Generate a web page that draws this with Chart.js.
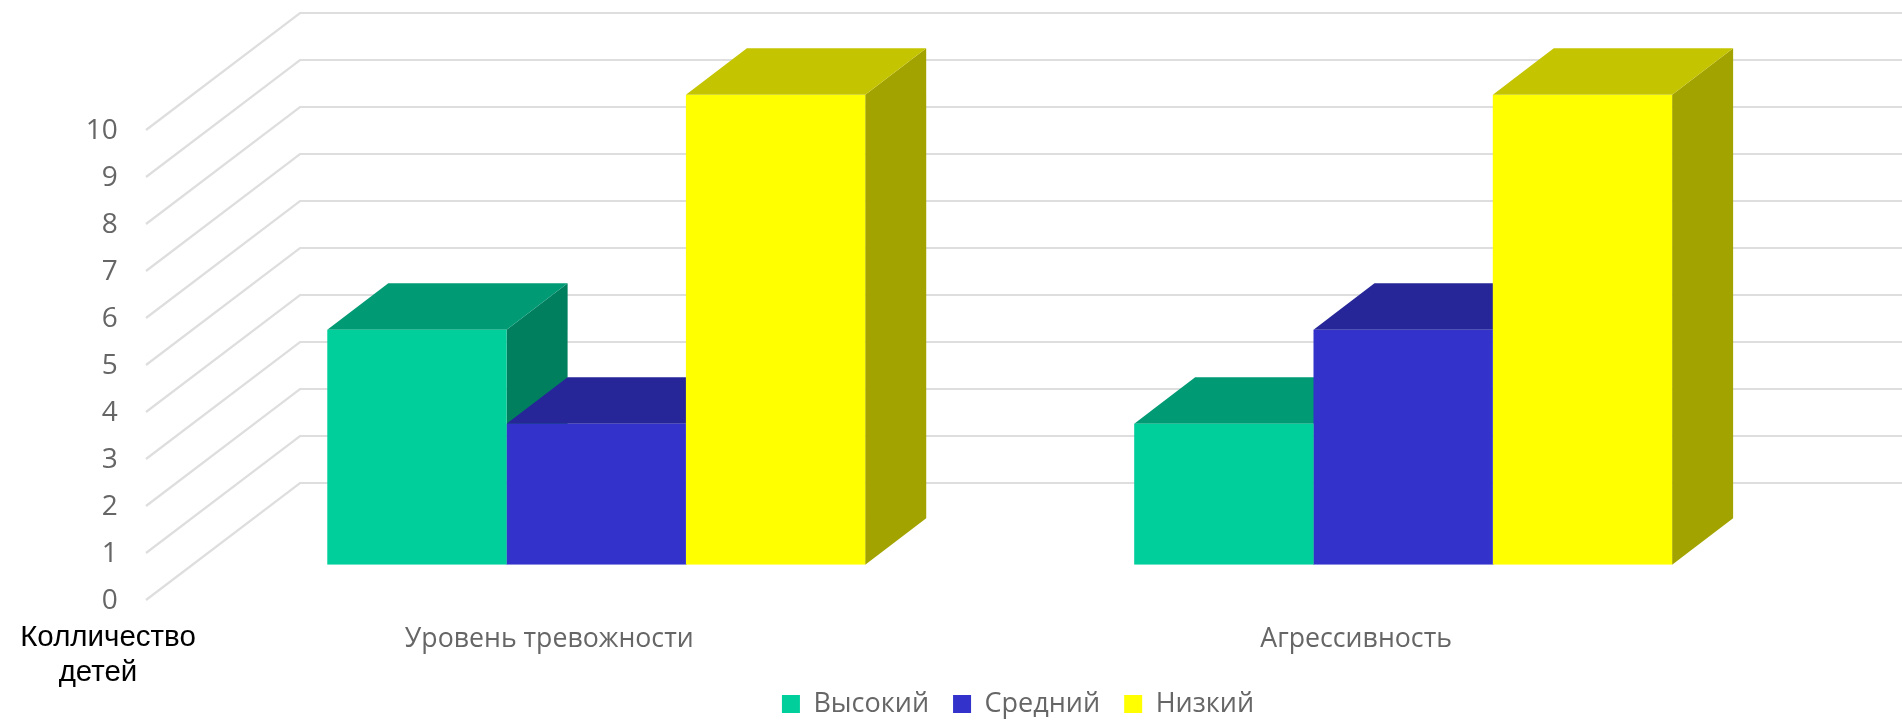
<!DOCTYPE html>
<html><head><meta charset="utf-8">
<style>html,body{margin:0;padding:0;background:#fff}canvas{display:block}</style>
<script src="https://cdn.jsdelivr.net/npm/chart.js@4"></script>
</head><body>
<canvas id="c" width="1902" height="721"></canvas>
<script>
const categories = ['Уровень тревожности', 'Агрессивность'];
const seriesNames = ['Высокий', 'Средний', 'Низкий'];
const high = [5, 3];
const medium = [3, 5];
const low = [10, 10];
const yTicks = [0, 1, 2, 3, 4, 5, 6, 7, 8, 9, 10];
const axisNote = ['Колличество', 'детей'];

const frontColors = ['#00CF9B', '#3333CC', '#FFFF00'];
const topColors = ['#009B74', '#262699', '#C4C400'];
const sideColors = ['#007F5F', '#1F1F80', '#A3A300'];

const FONT = '"Open Sans", sans-serif';
const TEXT = '#666666';
const GRID = '#DEDEDE';
// 3D projection offsets
const BAR_DX = 61, BAR_DY = 46.5;
const WALL_X0 = 146, WALL_X1 = 300, WALL_FRONT_DY = 35.3, WALL_BACK_DY = 81.7;
const AREA = {top: 94.7, bottom: 564.7, left: 192.8, right: 1806.6};
const LEGEND_CENTER_X = 1018, LEGEND_CENTER_Y = 697;

const faux3d = {
  id: 'faux3d',
  afterLayout(chart) {
    const lg = chart.legend;
    const shiftX = LEGEND_CENTER_X - (lg.left + lg.right) / 2;
    const shiftY = LEGEND_CENTER_Y - (lg.top + lg.height / 2);
    lg.left += shiftX; lg.right += shiftX;
    lg.top += shiftY; lg.bottom += shiftY;
  },
  beforeDatasetsDraw(chart) {
    const {ctx} = chart;
    const y = chart.scales.y;
    ctx.save();
    ctx.strokeStyle = GRID;
    ctx.lineWidth = 2.2;
    yTicks.forEach(v => {
      const p = y.getPixelForValue(v);
      ctx.beginPath();
      ctx.moveTo(WALL_X0, p + WALL_FRONT_DY);
      ctx.lineTo(WALL_X1, p - WALL_BACK_DY);
      ctx.lineTo(chart.width, p - WALL_BACK_DY);
      ctx.stroke();
    });
    const poly = (pts, color) => {
      ctx.fillStyle = color;
      ctx.beginPath();
      pts.forEach((q, i) => i ? ctx.lineTo(q[0], q[1]) : ctx.moveTo(q[0], q[1]));
      ctx.closePath();
      ctx.fill();
    };
    chart.data.datasets.forEach((ds, di) => {
      chart.getDatasetMeta(di).data.forEach(b => {
        const l = b.x - b.width / 2, r = b.x + b.width / 2;
        poly([[r, b.y], [r + BAR_DX, b.y - BAR_DY], [r + BAR_DX, b.base - BAR_DY], [r, b.base]], sideColors[di]);
        poly([[l, b.y], [l + BAR_DX, b.y - BAR_DY], [r + BAR_DX, b.y - BAR_DY], [r, b.y]], topColors[di]);
      });
    });
    ctx.restore();
  },
  afterDraw(chart) {
    const {ctx} = chart;
    ctx.save();
    ctx.fillStyle = '#000';
    ctx.textAlign = 'center';
    ctx.textBaseline = 'middle';
    ctx.font = '29.5px "Liberation Sans", sans-serif';
    ctx.fillText(axisNote[0], 108, 638);
    ctx.fillText(axisNote[1], 98, 672.5);
    ctx.restore();
  }
};

const names = [high, medium, low];
new Chart(document.getElementById('c'), {
  type: 'bar',
  data: {
    labels: categories,
    datasets: names.map((vals, i) => ({
      label: seriesNames[i],
      data: vals,
      backgroundColor: frontColors[i],
      borderWidth: 0,
      barPercentage: 1,
      categoryPercentage: 2 / 3
    }))
  },
  options: {
    responsive: false,
    animation: false,
    layout: {padding: {top: AREA.top, right: 1902 - AREA.right, left: 0, bottom: 0}},
    plugins: {
      tooltip: {enabled: false},
      title: {display: false},
      legend: {
        display: true,
        position: 'bottom',
        labels: {
          boxWidth: 18, boxHeight: 18, padding: 24,
          color: TEXT,
          font: {family: FONT, size: 27}
        }
      }
    },
    scales: {
      x: {
        grid: {display: false, drawTicks: false},
        border: {display: false},
        ticks: {color: TEXT, padding: 59, labelOffset: -47, font: {family: FONT, size: 26.7}, maxRotation: 0},
        afterFit(s) { s.height = 721 - AREA.bottom - s.chart.legend.height; }
      },
      y: {
        min: 0, max: 10,
        grid: {display: false, drawTicks: false},
        border: {display: false},
        ticks: {stepSize: 1, color: TEXT, padding: 75, labelOffset: 36.3, font: {family: FONT, size: 28}},
        afterFit(s) { s.width = AREA.left; }
      }
    }
  },
  plugins: [faux3d]
});
</script>
</body></html>
